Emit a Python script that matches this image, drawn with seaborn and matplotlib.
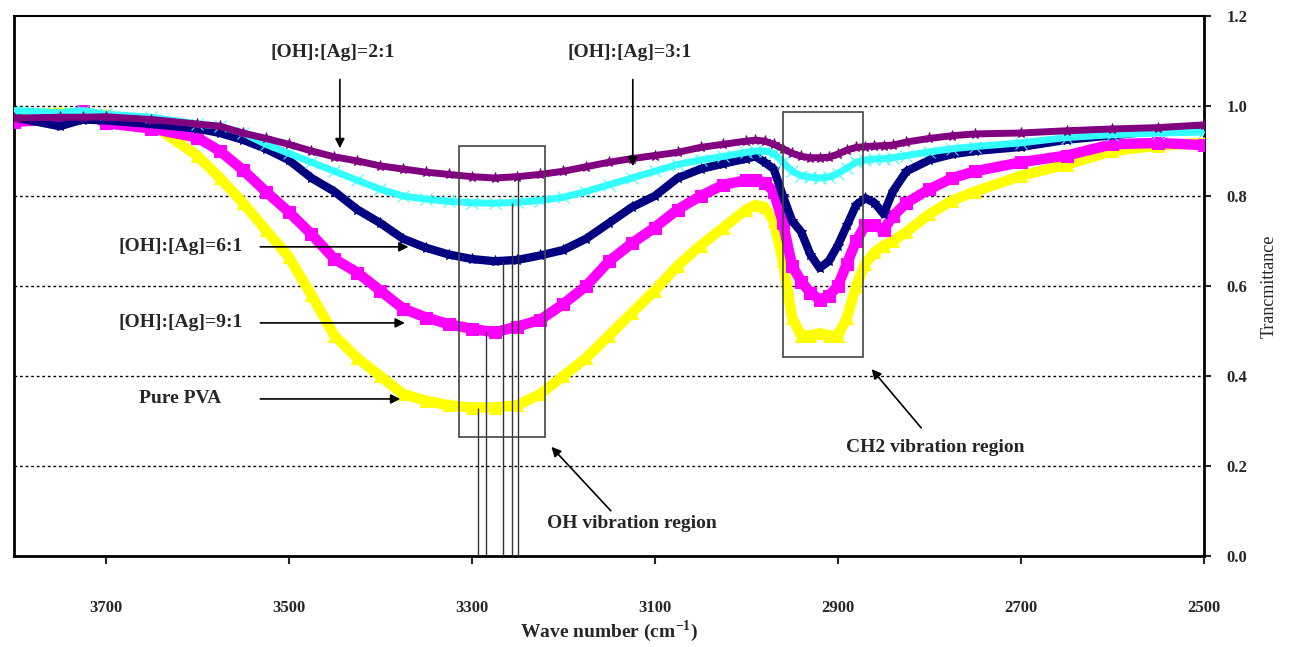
import numpy as np
import pandas as pd
import matplotlib
matplotlib.use('Agg')
import matplotlib.pyplot as plt
import seaborn as sns

sns.set_style('white')
plt.rcParams['font.family'] = ['Liberation Serif', 'DejaVu Serif']
plt.rcParams['mathtext.fontset'] = 'custom'
plt.rcParams['mathtext.rm'] = 'Liberation Serif'
plt.rcParams['mathtext.bf'] = 'Liberation Serif:bold'

# wave numbers (cm-1)
wavenumber = [3800, 3750, 3725, 3700, 3650, 3600, 3575, 3550, 3525, 3500,
              3475, 3450, 3425, 3400, 3375, 3350, 3325, 3300, 3275, 3250,
              3225, 3200, 3175, 3150, 3125, 3100, 3075, 3050, 3025, 3000,
              2990, 2980, 2970, 2960, 2950, 2940, 2930, 2920, 2910, 2900,
              2890, 2880, 2870, 2860, 2850, 2840, 2825, 2800, 2775, 2750,
              2700, 2650, 2600, 2550, 2500]

pure_pva = [0.98, 0.985, 0.98, 0.98, 0.96, 0.89, 0.84, 0.785, 0.725, 0.665,
            0.58, 0.49, 0.44, 0.40, 0.36, 0.345, 0.335, 0.33, 0.33, 0.335,
            0.36, 0.40, 0.44, 0.49, 0.54, 0.59, 0.645, 0.69, 0.73, 0.77,
            0.78, 0.775, 0.745, 0.655, 0.53, 0.49, 0.49, 0.495, 0.49, 0.49,
            0.53, 0.60, 0.65, 0.675, 0.69, 0.70, 0.72, 0.76, 0.79, 0.81,
            0.845, 0.87, 0.90, 0.912, 0.918]

ratio_9 = [0.965, 0.97, 0.99, 0.962, 0.95, 0.93, 0.90, 0.858, 0.81, 0.765,
           0.715, 0.66, 0.63, 0.59, 0.55, 0.53, 0.515, 0.505, 0.497, 0.51,
           0.525, 0.56, 0.60, 0.655, 0.695, 0.73, 0.77, 0.80, 0.825, 0.835,
           0.836, 0.83, 0.81, 0.74, 0.645, 0.61, 0.585, 0.57, 0.578, 0.60,
           0.65, 0.70, 0.735, 0.735, 0.725, 0.755, 0.785, 0.815, 0.84, 0.855,
           0.875, 0.89, 0.915, 0.918, 0.913]

ratio_6 = [0.975, 0.955, 0.97, 0.968, 0.96, 0.95, 0.94, 0.925, 0.905, 0.88,
           0.84, 0.81, 0.77, 0.74, 0.705, 0.685, 0.67, 0.66, 0.655, 0.658,
           0.668, 0.68, 0.705, 0.74, 0.775, 0.80, 0.84, 0.86, 0.872, 0.883,
           0.888, 0.875, 0.86, 0.80, 0.745, 0.72, 0.67, 0.64, 0.655, 0.69,
           0.735, 0.78, 0.795, 0.785, 0.76, 0.81, 0.855, 0.88, 0.893, 0.90,
           0.909, 0.925, 0.935, 0.945, 0.952]

ratio_3 = [0.99, 0.985, 0.99, 0.982, 0.975, 0.96, 0.955, 0.94, 0.915, 0.895,
           0.875, 0.855, 0.835, 0.815, 0.80, 0.793, 0.788, 0.785, 0.784, 0.786,
           0.79, 0.797, 0.81, 0.825, 0.84, 0.855, 0.87, 0.88, 0.888, 0.897,
           0.90, 0.90, 0.895, 0.875, 0.855, 0.845, 0.842, 0.84, 0.842, 0.85,
           0.862, 0.875, 0.88, 0.882, 0.883, 0.885, 0.89, 0.898, 0.905, 0.91,
           0.918, 0.93, 0.936, 0.94, 0.942]

ratio_2 = [0.973, 0.975, 0.975, 0.976, 0.97, 0.96, 0.955, 0.94, 0.928, 0.915,
           0.90, 0.887, 0.878, 0.867, 0.86, 0.853, 0.848, 0.843, 0.84, 0.843,
           0.848, 0.855, 0.865, 0.875, 0.883, 0.89, 0.897, 0.908, 0.915, 0.922,
           0.924, 0.922, 0.915, 0.905, 0.895, 0.888, 0.885, 0.885, 0.886, 0.893,
           0.902, 0.908, 0.91, 0.911, 0.912, 0.913, 0.92, 0.928, 0.934, 0.938,
           0.94, 0.945, 0.949, 0.952, 0.958]

series_names = ['Pure PVA', '9:1', '6:1', '3:1', '2:1']
series_colors = ['#ffff00', '#ff00ff', '#000080', '#33ffff', '#800080']
series_markers = ['^', 's', '*', 'x', '*']
series_widths = [7.5, 7.5, 6, 5, 5]

# OH band minima marked with vertical drop lines
peak_wn = [3293, 3284, 3266, 3256, 3249]
peak_t = [0.33, 0.50, 0.655, 0.785, 0.843]

df = pd.DataFrame({'wn': wavenumber, 'Pure PVA': pure_pva, '9:1': ratio_9,
                   '6:1': ratio_6, '3:1': ratio_3, '2:1': ratio_2})

fig = plt.figure(figsize=(12.9, 6.47), dpi=100)
ax = fig.add_axes([14 / 1290, 1 - 556 / 647, 1190 / 1290, 540 / 647])

for name, c, m, lw in zip(series_names, series_colors, series_markers, series_widths):
    sns.lineplot(data=df, x='wn', y=name, color=c, marker=m, markersize=8,
                 markeredgecolor=c, linewidth=lw, ax=ax, zorder=3)

# dotted grid
for g in [0.2, 0.4, 0.6, 0.8, 1.0]:
    ax.axhline(g, color='black', linestyle=(0, (2, 2)), linewidth=1, zorder=1)

ax.vlines(peak_wn, 0, peak_t, color='#333333', linewidth=1, zorder=4)

# region boxes
box_kw = dict(fill=False, edgecolor='#444444', linewidth=1.2, zorder=5)
ax.add_patch(plt.Rectangle((3220, 0.264), 94, 0.647, **box_kw))
ax.add_patch(plt.Rectangle((2873, 0.442), 87, 0.545, **box_kw))

txt = dict(fontsize=14, fontweight='bold', ha='center', va='center')
arr = dict(arrowstyle='-|>', color='black', lw=1.2, mutation_scale=14)

ax.text(3452, 1.118, '[OH]:[Ag]=2:1', **txt)
ax.annotate('', xy=(3444, 0.90), xytext=(3444, 1.065), arrowprops=arr)
ax.text(3127, 1.118, '[OH]:[Ag]=3:1', **txt)
ax.annotate('', xy=(3124, 0.86), xytext=(3124, 1.065), arrowprops=arr)

ax.text(3618, 0.687, '[OH]:[Ag]=6:1', **txt)
ax.annotate('', xy=(3366, 0.687), xytext=(3534, 0.687), arrowprops=arr)
ax.text(3618, 0.518, '[OH]:[Ag]=9:1', **txt)
ax.annotate('', xy=(3370, 0.518), xytext=(3534, 0.518), arrowprops=arr)
ax.text(3618, 0.351, 'Pure PVA', **txt)
ax.annotate('', xy=(3375, 0.349), xytext=(3534, 0.349), arrowprops=arr)

ax.text(3125, 0.073, 'OH vibration region', **txt)
ax.annotate('', xy=(3215, 0.247), xytext=(3146, 0.096), arrowprops=arr)
ax.text(2794, 0.242, 'CH2 vibration region', **txt)
ax.annotate('', xy=(2865, 0.42), xytext=(2807, 0.28), arrowprops=arr)

ax.set_xlim(3800, 2500)
ax.set_ylim(0, 1.2)
ax.set_xticks([3700, 3500, 3300, 3100, 2900, 2700, 2500])
ax.set_yticks([0.0, 0.2, 0.4, 0.6, 0.8, 1.0, 1.2])
ax.set_yticklabels(['0.0', '0.2', '0.4', '0.6', '0.8', '1.0', '1.2'])
ax.yaxis.tick_right()
ax.yaxis.set_label_position('right')
ax.tick_params(axis='x', direction='out', length=6, width=1.5, pad=26,
               labelsize=12, bottom=True)
ax.tick_params(axis='y', direction='out', length=5, width=1.5, pad=11,
               labelsize=12, right=True, left=False)
for lab in ax.get_xticklabels() + ax.get_yticklabels():
    lab.set_fontweight('bold')

ax.set_xlabel('Wave number (cm$^{\\mathbf{-1}}$)', fontsize=14, fontweight='bold', labelpad=1)
ax.set_ylabel('Trancmittance', fontsize=13, labelpad=10)

for side in ['left', 'right', 'bottom']:
    ax.spines[side].set_linewidth(2)
    ax.spines[side].set_color('black')
ax.spines['top'].set_linewidth(1.5)
ax.spines['top'].set_color('black')

fig.savefig('out.png', dpi=100)
